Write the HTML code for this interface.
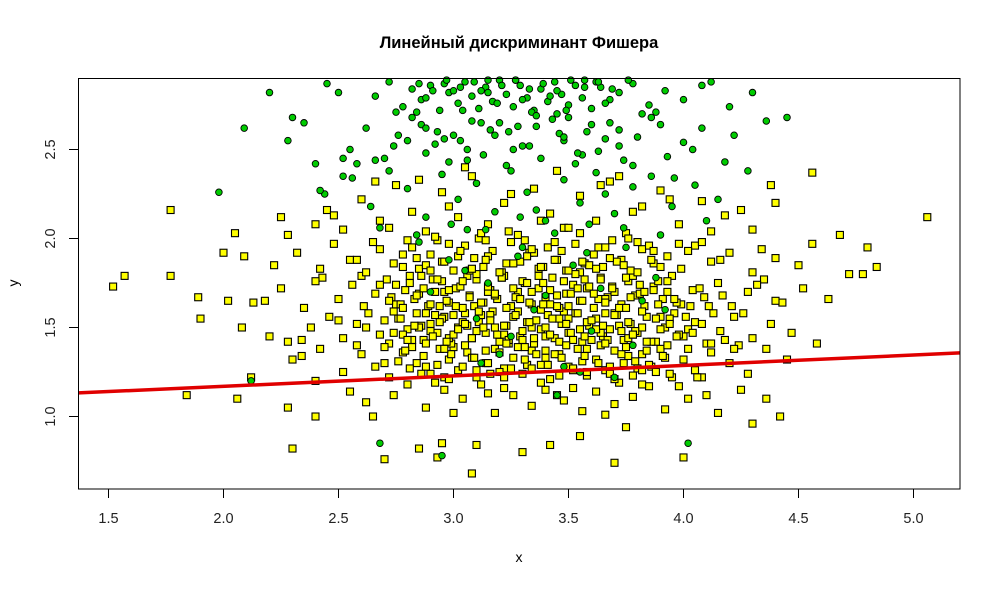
<!DOCTYPE html>
<html><head><meta charset="utf-8"><style>
html,body{margin:0;padding:0;background:#fff}
svg text{font-family:"Liberation Sans",Arial,sans-serif}
</style></head><body>
<svg id="chart" width="1000" height="587" viewBox="0 0 1000 587" xmlns="http://www.w3.org/2000/svg">
<rect width="1000" height="587" fill="#fff"/>
<text x="519" y="48" text-anchor="middle" font-size="16.5" font-weight="bold">Линейный дискриминант Фишера</text>
<text x="519" y="562" text-anchor="middle" font-size="14">x</text>
<text x="18" y="283" text-anchor="middle" font-size="14" transform="rotate(-90 18 283)">y</text>
<g id="ticks"></g>
<g id="yellow"></g>
<g id="green"></g>
<g id="line"></g>
<rect x="78.5" y="78.5" width="881.5" height="410.5" fill="none" stroke="#000" stroke-width="1"/>
</svg>
<script>
const xTicks=[1.5,2.0,2.5,3.0,3.5,4.0,4.5,5.0];
const yTicks=[1.0,1.5,2.0,2.5];
const lineIntercept=1.052, lineSlope=0.0587;
const yellowX=[3.08,2.93,2.95,3.30,2.70,2.65,2.85,3.70,4.00,4.30,4.42,3.10,3.42,2.30,3.75,3.55,2.40,
2.28,2.62,2.74,2.88,2.96,3.04,3.12,3.18,3.26,3.34,3.40,3.48,3.56,3.62,3.70,3.78,3.85,3.92,4.02,4.15,4.25,4.36,2.80,3.00,3.15,3.38,3.52,3.66,3.82,3.98,4.10,2.92,3.22,3.45,3.72,2.55,1.84,2.06,2.40,
2.12,2.30,2.42,2.52,2.60,2.66,2.72,2.78,2.84,2.90,2.94,2.98,3.02,3.06,3.10,3.14,3.18,3.22,3.26,3.30,3.34,3.38,3.42,3.46,3.50,3.54,3.58,3.62,3.66,3.70,3.74,3.78,3.82,3.86,3.90,3.95,4.00,4.05,4.12,4.20,4.28,4.36,4.45,2.70,2.88,2.96,3.08,3.20,3.32,3.44,3.56,3.68,3.80,3.92,4.08,4.24,2.58,2.82,3.00,3.16,3.28,3.40,3.52,3.64,3.76,3.88,2.34,
2.20,2.28,2.38,2.46,2.52,2.58,2.63,2.68,2.72,2.76,2.80,2.84,2.87,2.90,2.93,2.96,2.99,3.02,3.05,3.08,3.11,3.14,3.17,3.20,3.23,3.26,3.29,3.32,3.35,3.38,3.41,3.44,3.47,3.50,3.53,3.56,3.59,3.62,3.65,3.68,3.71,3.74,3.77,3.80,3.84,3.88,3.92,3.96,4.00,4.05,4.10,4.16,4.22,4.30,4.38,4.47,4.58,2.70,2.78,2.86,2.92,2.98,3.04,3.10,3.16,3.22,3.28,3.34,3.40,3.46,3.52,3.58,3.64,3.70,3.76,3.82,3.90,3.98,4.08,4.18,2.62,2.74,2.82,2.95,3.00,3.12,3.18,3.24,3.36,3.42,3.48,3.55,3.60,3.66,3.72,3.79,3.86,3.94,4.02,4.13,2.50,2.90,3.06,3.30,3.50,3.78,4.26,1.90,2.08,2.34,
2.18,2.25,2.35,2.43,2.50,2.56,2.61,2.66,2.71,2.75,2.79,2.83,2.86,2.89,2.92,2.95,2.98,3.01,3.04,3.07,3.10,3.13,3.16,3.19,3.22,3.25,3.28,3.31,3.34,3.37,3.40,3.43,3.46,3.49,3.52,3.55,3.58,3.61,3.64,3.67,3.70,3.73,3.76,3.79,3.83,3.87,3.91,3.95,3.99,4.04,4.09,4.15,4.21,4.28,4.35,4.43,4.52,4.63,4.72,2.68,2.77,2.85,2.91,2.97,3.03,3.09,3.15,3.21,3.27,3.33,3.39,3.45,3.51,3.57,3.63,3.69,3.75,3.81,3.89,3.97,4.07,4.17,4.32,2.60,2.73,2.81,2.94,3.06,3.18,3.30,3.42,3.54,3.66,3.78,3.93,4.11,4.40,2.02,2.13,1.52,1.57,1.77,1.89,2.40,4.78,4.84,
2.22,2.32,2.42,2.48,2.55,2.62,2.68,2.74,2.80,2.85,2.90,2.95,3.00,3.05,3.09,3.13,3.17,3.21,3.25,3.29,3.33,3.37,3.41,3.45,3.49,3.53,3.57,3.61,3.65,3.69,3.73,3.77,3.82,3.87,3.93,3.99,4.05,4.12,4.20,4.30,4.40,4.50,4.56,2.00,2.09,2.65,2.78,2.88,2.98,3.07,3.15,3.23,3.31,3.39,3.47,3.55,3.63,3.71,3.80,3.90,4.02,4.16,4.34,2.58,2.93,3.11,3.35,3.59,3.85,4.08,4.80,4.68,
2.25,2.45,2.52,2.60,2.68,2.75,2.82,2.88,2.95,3.02,3.08,3.15,3.22,3.28,3.35,3.42,3.48,3.55,3.62,3.68,3.75,3.82,3.90,3.98,4.08,4.18,4.30,4.40,4.56,2.28,2.48,2.72,2.85,2.98,3.12,3.25,3.38,3.50,3.64,3.78,3.94,4.12,4.38,2.05,2.40,2.66,3.05,3.45,3.72,4.25,1.77,5.06];
const yellowY=[0.68,0.77,0.85,0.80,0.76,1.00,0.82,0.74,0.77,0.96,1.00,0.84,0.84,0.82,0.94,0.89,1.00,
1.05,1.08,1.12,1.05,1.15,1.10,1.18,1.02,1.12,1.06,1.15,1.09,1.03,1.14,1.07,1.11,1.17,1.04,1.10,1.02,1.15,1.10,1.18,1.02,1.13,1.19,1.16,1.01,1.18,1.17,1.12,1.19,1.16,1.12,1.19,1.14,1.12,1.10,1.20,
1.22,1.32,1.38,1.25,1.35,1.28,1.22,1.36,1.30,1.24,1.38,1.32,1.26,1.36,1.22,1.30,1.38,1.27,1.33,1.24,1.37,1.29,1.21,1.35,1.28,1.38,1.23,1.32,1.26,1.37,1.30,1.23,1.35,1.28,1.38,1.22,1.32,1.26,1.36,1.30,1.24,1.38,1.32,1.30,1.28,1.22,1.33,1.25,1.29,1.35,1.31,1.24,1.27,1.33,1.22,1.40,1.40,1.39,1.39,1.24,1.39,1.33,1.26,1.40,1.34,1.25,1.34,
1.45,1.42,1.50,1.56,1.44,1.52,1.58,1.46,1.41,1.55,1.49,1.58,1.43,1.52,1.47,1.56,1.41,1.50,1.58,1.44,1.53,1.47,1.59,1.42,1.51,1.56,1.45,1.53,1.41,1.49,1.57,1.44,1.52,1.47,1.58,1.42,1.51,1.55,1.45,1.49,1.57,1.43,1.52,1.47,1.56,1.42,1.50,1.58,1.45,1.53,1.41,1.48,1.56,1.44,1.52,1.47,1.41,1.54,1.46,1.51,1.57,1.44,1.53,1.48,1.57,1.46,1.59,1.50,1.45,1.55,1.43,1.53,1.47,1.58,1.44,1.50,1.56,1.46,1.52,1.43,1.50,1.59,1.43,1.55,1.46,1.57,1.50,1.41,1.54,1.46,1.59,1.49,1.43,1.58,1.51,1.48,1.42,1.55,1.49,1.58,1.54,1.48,1.51,1.43,1.55,1.46,1.58,1.55,1.50,1.43,
1.65,1.72,1.61,1.78,1.66,1.74,1.62,1.69,1.77,1.63,1.71,1.66,1.79,1.62,1.70,1.76,1.64,1.72,1.61,1.68,1.77,1.64,1.71,1.66,1.79,1.62,1.70,1.75,1.63,1.72,1.67,1.78,1.61,1.69,1.74,1.65,1.72,1.61,1.78,1.67,1.70,1.63,1.76,1.68,1.62,1.73,1.66,1.79,1.63,1.71,1.67,1.75,1.62,1.70,1.77,1.64,1.72,1.66,1.80,1.74,1.63,1.69,1.77,1.65,1.73,1.62,1.70,1.78,1.67,1.64,1.75,1.62,1.69,1.77,1.66,1.73,1.61,1.69,1.76,1.64,1.72,1.68,1.74,1.79,1.67,1.75,1.62,1.79,1.68,1.76,1.63,1.72,1.66,1.79,1.70,1.62,1.65,1.65,1.64,1.73,1.79,1.79,1.67,1.76,1.80,1.84,
1.85,1.92,1.83,1.97,1.88,1.81,1.94,1.86,1.99,1.83,1.91,1.87,1.82,1.96,1.89,1.84,1.93,1.81,1.98,1.87,1.92,1.83,1.95,1.88,1.82,1.97,1.86,1.91,1.84,1.99,1.88,1.82,1.94,1.86,1.90,1.83,1.96,1.87,1.92,1.81,1.89,1.85,1.97,1.92,1.90,1.98,1.91,1.85,1.97,1.82,1.90,1.86,1.99,1.84,1.93,1.81,1.95,1.87,1.98,1.84,1.93,1.88,1.94,1.88,1.99,2.00,1.92,1.85,1.96,1.98,1.95,2.02,
2.12,2.16,2.05,2.22,2.10,2.30,2.15,2.04,2.26,2.12,2.35,2.08,2.20,2.02,2.28,2.14,2.06,2.24,2.10,2.32,2.03,2.18,2.27,2.08,2.21,2.13,2.05,2.20,2.37,2.02,2.13,2.06,2.33,2.18,2.03,2.25,2.10,2.06,2.30,2.15,2.22,2.04,2.30,2.03,2.08,2.32,2.40,2.38,2.35,2.16,2.16,2.12];
const yellowCoreX=[2.76,2.81,2.87,2.93,2.99,3.04,3.09,3.15,3.20,3.25,3.31,3.36,3.41,3.47,3.52,3.57,3.63,3.68,3.73,3.79,3.85,3.91,
2.74,2.80,2.85,2.91,2.97,3.02,3.08,3.13,3.19,3.24,3.30,3.35,3.40,3.46,3.51,3.57,3.62,3.67,3.73,3.78,3.84,3.90,3.97,4.04,
2.77,2.83,2.88,2.94,3.00,3.05,3.11,3.16,3.22,3.27,3.33,3.38,3.43,3.49,3.54,3.60,3.65,3.70,3.76,3.82,3.88,3.94,4.01,
2.72,2.78,2.84,2.90,2.96,3.01,3.07,3.12,3.18,3.23,3.29,3.34,3.39,3.45,3.50,3.56,3.61,3.66,3.72,3.77,3.83,3.89,3.96,4.03,
2.75,2.81,2.87,2.93,2.98,3.04,3.10,3.15,3.21,3.26,3.32,3.37,3.42,3.48,3.53,3.59,3.64,3.69,3.75,3.81,3.87,3.93,
2.78,2.84,2.90,2.96,3.02,3.08,3.14,3.20,3.26,3.32,3.38,3.44,3.50,3.56,3.62,3.68,3.74,3.80,3.86,
2.86,2.98,3.10,3.22,3.34,3.46,3.58,3.70,3.82,3.94,4.06,
2.70,2.79,2.88,2.96,3.05,3.14,3.23,3.31,3.40,3.49,3.58,3.66,3.75,3.84,3.93,4.02,4.12,4.22,
2.82,2.92,3.03,3.14,3.24,3.34,3.44,3.55,3.66,3.76,3.87,3.98];
const yellowCoreY=[1.31,1.27,1.34,1.29,1.35,1.28,1.33,1.30,1.36,1.27,1.32,1.35,1.29,1.33,1.27,1.34,1.30,1.28,1.35,1.31,1.29,1.34,
1.47,1.43,1.50,1.45,1.42,1.49,1.44,1.50,1.46,1.43,1.48,1.44,1.50,1.42,1.47,1.45,1.49,1.43,1.48,1.46,1.42,1.49,1.45,1.47,
1.55,1.51,1.58,1.53,1.57,1.52,1.59,1.54,1.51,1.57,1.53,1.60,1.55,1.52,1.58,1.54,1.51,1.57,1.53,1.59,1.55,1.52,1.56,
1.65,1.61,1.68,1.63,1.70,1.62,1.67,1.64,1.69,1.61,1.66,1.70,1.63,1.68,1.62,1.65,1.69,1.64,1.61,1.67,1.70,1.63,1.66,1.62,
1.74,1.79,1.72,1.77,1.71,1.76,1.80,1.73,1.78,1.72,1.75,1.79,1.71,1.76,1.80,1.73,1.77,1.72,1.78,1.74,1.71,1.76,
1.84,1.89,1.82,1.87,1.90,1.83,1.88,1.81,1.86,1.90,1.84,1.88,1.82,1.87,1.83,1.89,1.85,1.81,1.88,
1.24,1.21,1.26,1.22,1.27,1.23,1.25,1.21,1.26,1.24,1.22,
1.39,1.37,1.41,1.38,1.40,1.37,1.41,1.39,1.37,1.40,1.38,1.41,1.39,1.37,1.40,1.38,1.41,1.38,
1.95,2.01,1.93,1.99,2.04,1.94,1.98,2.03,1.95,2.00,1.93,1.97];
const greenX=[2.66,2.72,2.78,2.82,2.86,2.90,2.94,2.98,3.02,3.05,3.08,3.11,3.14,3.17,3.20,3.23,3.26,3.29,3.32,3.35,3.38,3.41,3.44,3.47,3.50,3.53,3.56,3.60,3.64,3.68,3.72,3.78,3.85,3.92,4.00,4.08,4.20,4.30,2.75,2.88,2.96,3.04,3.12,3.19,3.27,3.34,3.42,3.49,3.57,3.66,3.76,3.88,4.12,2.84,3.00,3.15,3.30,3.45,3.62,3.82,2.50,
2.40,2.55,2.62,2.70,2.76,2.82,2.88,2.93,2.98,3.03,3.08,3.13,3.18,3.23,3.28,3.33,3.38,3.43,3.48,3.53,3.58,3.63,3.68,3.74,3.80,3.86,3.93,4.00,4.08,4.18,4.36,4.45,2.58,2.74,2.86,2.96,3.06,3.16,3.26,3.36,3.46,3.56,3.66,3.78,3.90,4.04,4.22,2.66,2.92,3.20,3.50,3.72,
2.44,2.56,2.64,2.72,2.80,2.88,2.95,3.02,3.10,3.18,3.25,3.32,3.40,3.48,3.55,3.62,3.70,3.78,3.86,3.95,4.05,4.15,4.28,2.68,2.84,2.99,3.14,3.29,3.44,3.59,3.74,3.90,4.10,2.52,3.06,3.36,3.66,3.96,
2.12,2.68,2.95,3.05,3.15,3.28,3.40,3.52,3.64,3.75,3.88,3.10,3.35,3.60,3.82,2.90,3.20,3.48,3.70,2.98,3.30,3.58,3.45,3.78,2.85,3.25,3.55,3.92,4.02,3.12,
2.20,2.09,1.98,2.42,2.30,2.35,2.45,2.28,2.52];
const greenY=[2.80,2.88,2.74,2.84,2.78,2.86,2.72,2.82,2.76,2.88,2.80,2.73,2.85,2.77,2.89,2.81,2.74,2.86,2.79,2.72,2.84,2.77,2.88,2.81,2.75,2.86,2.79,2.73,2.85,2.78,2.82,2.87,2.75,2.83,2.78,2.86,2.74,2.82,2.71,2.79,2.87,2.72,2.83,2.76,2.89,2.71,2.80,2.72,2.89,2.76,2.89,2.71,2.88,2.71,2.83,2.89,2.78,2.70,2.88,2.70,2.82,
2.42,2.50,2.62,2.45,2.58,2.68,2.48,2.60,2.43,2.55,2.66,2.47,2.58,2.41,2.63,2.52,2.45,2.67,2.55,2.42,2.60,2.49,2.65,2.44,2.57,2.68,2.46,2.54,2.62,2.43,2.66,2.68,2.42,2.52,2.64,2.56,2.44,2.61,2.50,2.69,2.59,2.47,2.56,2.41,2.64,2.50,2.58,2.44,2.53,2.65,2.68,2.52,
2.25,2.34,2.18,2.38,2.28,2.12,2.36,2.22,2.31,2.15,2.38,2.26,2.10,2.33,2.20,2.37,2.14,2.29,2.35,2.18,2.30,2.22,2.38,2.06,2.02,2.08,2.05,2.12,2.03,2.08,2.06,2.02,2.10,2.35,2.05,2.16,2.25,2.34,
1.20,0.85,0.78,1.82,1.75,1.90,1.68,1.85,1.72,1.95,1.78,1.55,1.60,1.48,1.65,1.70,1.35,1.28,1.22,1.88,1.95,1.92,1.12,1.40,1.98,1.45,1.25,1.60,0.85,1.30,
2.82,2.62,2.26,2.27,2.68,2.65,2.87,2.55,2.45];
const greenTopX=[2.85,2.91,2.97,3.03,3.09,3.15,3.21,3.27,3.33,3.39,3.45,3.51,3.57,3.63,3.69,2.88,3.00,3.12,3.24,3.36,3.48,3.60,3.72,2.80,3.06,3.30,3.54];
const greenTopY=[2.87,2.83,2.89,2.85,2.88,2.82,2.86,2.89,2.84,2.87,2.83,2.89,2.85,2.88,2.84,2.62,2.58,2.65,2.60,2.63,2.57,2.64,2.61,2.55,2.50,2.52,2.48];

const NS='http://www.w3.org/2000/svg';
const X0=1.5,PX0=108.5,SX=230;
const Y0=1.0,PY0=416.5,SY=178;
const sx=v=>PX0+(v-X0)*SX;
const sy=v=>PY0-(v-Y0)*SY;
const xMin=X0-(PX0-78.5)/SX, xMax=X0+(960-PX0)/SX;
function mk(tag,attrs,parent){const e=document.createElementNS(NS,tag);for(const k in attrs)e.setAttribute(k,attrs[k]);parent.appendChild(e);return e;}

const tg=document.getElementById('ticks');
xTicks.forEach(t=>{
  const l=mk('line',{x1:sx(t),x2:sx(t),y1:489,y2:498,stroke:'#000'},tg);
  
  
  const tx=mk('text',{x:sx(t),y:523,'text-anchor':'middle','font-size':'14.5',fill:'#222'},tg);
  tx.textContent=t.toFixed(1);
  
  
});
yTicks.forEach(t=>{
  const l=mk('line',{x1:69,x2:78.5,y1:sy(t),y2:sy(t),stroke:'#000'},tg);
  
  
  const tx=mk('text',{x:0,y:0,'text-anchor':'middle','font-size':'14.5',fill:'#222',transform:`translate(55 ${sy(t)}) rotate(-90)`},tg);
  tx.textContent=t.toFixed(1);
  
  
});

const yg=document.getElementById('yellow');
function drawYellow(xs,ys){
  const n=Math.min(xs.length,ys.length);
  for(let i=0;i<n;i++){
    const r=mk('rect',{x:sx(xs[i])-3.5,y:sy(ys[i])-3.5,width:7,height:7,fill:'#ffff00',stroke:'#000','stroke-width':1.1},yg);
    
    
  }
}
drawYellow(yellowX,yellowY);
drawYellow(yellowCoreX,yellowCoreY);
const gg=document.getElementById('green');
function drawGreen(xs,ys){
  const n=Math.min(xs.length,ys.length);
  for(let i=0;i<n;i++){
    const c=mk('circle',{cx:sx(xs[i]),cy:sy(ys[i]),r:3.3,fill:'#00cc00',stroke:'#000','stroke-width':0.9},gg);
    
    
  }
}
drawGreen(greenX,greenY);
drawGreen(greenTopX,greenTopY);
const lg=document.getElementById('line');
const ln=mk('line',{x1:78.5,y1:sy(lineIntercept+lineSlope*xMin),x2:960,y2:sy(lineIntercept+lineSlope*xMax),stroke:'#e00000','stroke-width':3.5},lg);


</script>
</body></html>
